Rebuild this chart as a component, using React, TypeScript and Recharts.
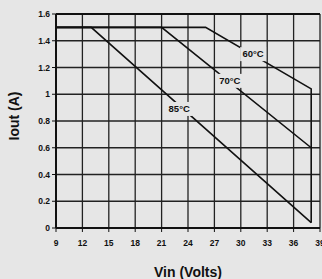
import { LineChart, Line, XAxis, YAxis, CartesianGrid, ReferenceLine, ReferenceDot, Label } from "recharts";

const xTicks = [9, 12, 15, 18, 21, 24, 27, 30, 33, 36, 39];
const yTicks = [0, 0.2, 0.4, 0.6, 0.8, 1, 1.2, 1.4, 1.6];

// derating curves, Vin (V) vs Iout (A)
const curve60 = [
  { vin: 9, iout: 1.5 },
  { vin: 26, iout: 1.5 },
  { vin: 38, iout: 1.04 },
  { vin: 38, iout: 0.04 },
];
const curve70 = [
  { vin: 9, iout: 1.5 },
  { vin: 21, iout: 1.5 },
  { vin: 38, iout: 0.6 },
];
const curve85 = [
  { vin: 9, iout: 1.5 },
  { vin: 13, iout: 1.5 },
  { vin: 38, iout: 0.04 },
];

const curveLabels = [
  { text: "60°C", vin: 31.4, iout: 1.3 },
  { text: "70°C", vin: 28.75, iout: 1.1 },
  { text: "85°C", vin: 23, iout: 0.89 },
];

const BG = "#e6e6e6";
const INK = "#111";
const font = "'Liberation Sans', Arial, sans-serif";

const tickStyle = { fontSize: 8.5, fontWeight: 700, fill: "#111", fontFamily: font };

const curveTag = (text: string) => (props: any) => {
  const { cx, cy } = props;
  return (
    <g>
      <rect x={cx - 13} y={cy - 7} width={26} height={14} fill={BG} />
      <text x={cx} y={cy + 3.2} textAnchor="middle" fontSize={9.5} fontWeight={700} fill="#111" fontFamily={font}>
        {text}
      </text>
    </g>
  );
};

export default function App() {
  return (
    <div style={{ position: "absolute", left: 0, top: 0, width: 322, height: 279, background: BG }}>
      <LineChart width={322} height={279} margin={{ top: 14, right: 2, left: 0, bottom: 0 }}>
        <CartesianGrid stroke="#222" strokeWidth={1.3} />
        <XAxis
          dataKey="vin"
          type="number"
          domain={[9, 39]}
          ticks={xTicks}
          interval={0}
          height={51}
          tick={tickStyle}
          tickSize={4}
          tickMargin={8}
          axisLine={{ stroke: INK, strokeWidth: 2 }}
          tickLine={{ stroke: INK }}
        >
          <Label
            value="Vin (Volts)"
            position="insideBottom"
            offset={2}
            style={{ fontSize: 14, fontWeight: 700, fill: "#111", fontFamily: font }}
          />
        </XAxis>
        <YAxis
          type="number"
          domain={[0, 1.6]}
          ticks={yTicks}
          interval={0}
          width={56}
          tick={tickStyle}
          tickSize={4}
          tickMargin={2}
          axisLine={{ stroke: INK, strokeWidth: 2 }}
          tickLine={{ stroke: INK }}
        >
          <Label
            content={() => (
              <text
                x={19}
                y={116}
                transform="rotate(-90 19 116)"
                textAnchor="middle"
                fontSize={14}
                fontWeight={700}
                fill="#111"
                fontFamily={font}
              >
                Iout (A)
              </text>
            )}
          />
        </YAxis>
        <ReferenceLine y={1.6} stroke={INK} strokeWidth={2.2} />
        <Line data={curve60} dataKey="iout" stroke={INK} strokeWidth={1.6} dot={false} isAnimationActive={false} />
        <Line data={curve70} dataKey="iout" stroke={INK} strokeWidth={1.6} dot={false} isAnimationActive={false} />
        <Line data={curve85} dataKey="iout" stroke={INK} strokeWidth={1.6} dot={false} isAnimationActive={false} />
        {curveLabels.map((l) => (
          <ReferenceDot key={l.text} x={l.vin} y={l.iout} r={1} shape={curveTag(l.text)} ifOverflow="visible" />
        ))}
      </LineChart>
    </div>
  );
}
